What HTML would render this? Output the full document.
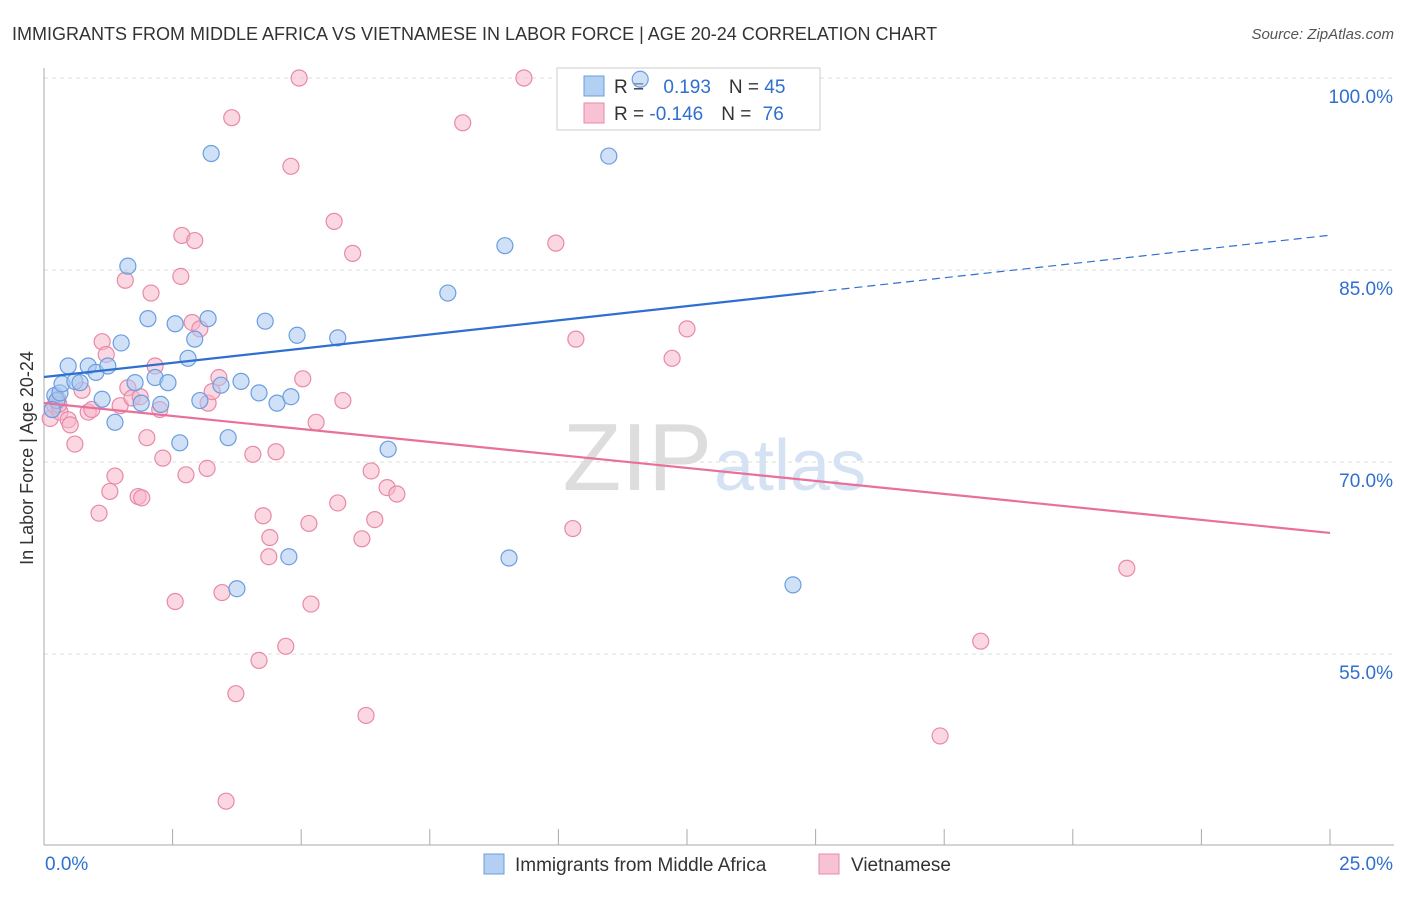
<!DOCTYPE html>
<html><head><meta charset="utf-8"><style>
body{margin:0;background:#fff;font-family:"Liberation Sans",sans-serif;}
svg text{font-family:"Liberation Sans",sans-serif;}
</style></head><body>
<svg id="chart" width="1406" height="892" viewBox="0 0 1406 892" xmlns="http://www.w3.org/2000/svg">
<text x="12" y="40" font-size="18" fill="#333">IMMIGRANTS FROM MIDDLE AFRICA VS VIETNAMESE IN LABOR FORCE | AGE 20-24 CORRELATION CHART</text>
<text x="1394" y="39" font-size="15" fill="#555" text-anchor="end" font-style="italic">Source: ZipAtlas.com</text>
<g id="grid"></g>
<g id="axes"></g>
<text x="712" y="490" font-size="96" fill="#ddd" text-anchor="end" font-family="Liberation Serif">ZIP</text>
<text x="714" y="490" font-size="72" fill="#d5e2f3">atlas</text>
<g>
<rect x="557" y="68" width="263" height="62" fill="#fff" stroke="#ccc"/>
<rect x="584" y="76" width="20" height="20" fill="#b3cff2" stroke="#6a9ee0"/>
<rect x="584" y="103" width="20" height="20" fill="#f7c3d4" stroke="#e889a8"/>
<text x="614" y="93" font-size="19" fill="#333">R = <tspan fill="#2f6fd0" dx="14">0.193</tspan><tspan fill="#333" dx="18">N = </tspan><tspan fill="#2f6fd0">45</tspan></text>
<text x="614" y="120" font-size="19" fill="#333">R = <tspan fill="#2f6fd0">-0.146</tspan><tspan fill="#333" dx="18">N = </tspan><tspan fill="#2f6fd0" dx="6">76</tspan></text>
</g>
<g id="pts"></g>
<g id="trend"></g>
<text x="33" y="458" font-size="18" fill="#333" text-anchor="middle" transform="rotate(-90 33 458)">In Labor Force | Age 20-24</text>
<g>
<rect x="484" y="854" width="20" height="20" fill="#b3cff2" stroke="#6a9ee0"/>
<text x="515" y="871" font-size="19" fill="#333">Immigrants from Middle Africa</text>
<rect x="819" y="854" width="20" height="20" fill="#f7c3d4" stroke="#e889a8"/>
<text x="851" y="871" font-size="19" fill="#333">Vietnamese</text>
</g>
</svg>
<script>
const yTicks=[100,85,70,55];
const xTickLabels=["0.0%","25.0%"];
const blueX=[0.21,0.25,0.31,0.47,0.35,0.6,0.7,0.86,1.01,1.13,1.24,1.38,1.5,1.63,1.77,1.89,2.02,2.16,2.27,2.41,2.55,2.64,2.8,2.93,3.03,3.19,3.25,3.44,3.58,3.75,3.83,4.18,4.3,4.53,4.76,4.8,4.92,5.71,6.69,7.85,8.96,9.04,10.98,11.59,14.56,0.16];
const blueY=[75.2,74.8,75.4,77.5,76.1,76.3,76.2,77.5,77.0,74.9,77.5,73.1,79.3,85.3,76.2,74.6,81.2,76.6,74.5,76.2,80.8,71.5,78.1,79.6,74.8,81.2,94.1,76.0,71.9,60.1,76.3,75.4,81.0,74.6,62.6,75.1,79.9,79.7,71.0,83.2,86.9,62.5,93.9,99.9,60.4,74.1];
const pinkX=[0.12,0.16,0.21,0.27,0.31,0.47,0.51,0.6,0.74,0.86,0.93,1.07,1.13,1.21,1.28,1.38,1.48,1.58,1.63,1.71,1.83,1.9,2.0,2.08,2.16,2.25,2.31,2.55,2.68,2.76,2.66,2.93,2.88,3.03,3.17,3.19,3.27,3.4,3.46,3.65,3.73,4.06,4.18,4.26,4.39,4.37,4.51,4.7,4.8,4.96,5.03,5.15,5.19,5.29,5.64,5.71,5.81,6.0,6.18,6.26,6.36,6.43,6.67,6.86,8.14,9.33,9.95,10.28,10.34,12.21,12.5,17.42,18.21,21.05,3.54,0.29,1.87];
const pinkY=[73.4,74.1,74.4,74.9,73.9,73.3,72.9,71.4,75.6,73.9,74.1,66.0,79.4,78.4,67.7,68.9,74.4,84.2,75.8,75.0,67.3,67.2,71.9,83.2,77.5,74.1,70.3,59.1,87.7,69.0,84.5,87.3,80.9,80.4,69.5,74.6,75.5,76.6,59.8,96.9,51.9,70.6,54.5,65.8,64.1,62.6,70.8,55.6,93.1,100.0,76.5,65.2,58.9,73.1,88.8,66.8,74.8,86.3,64.0,50.2,69.3,65.5,68.0,67.5,96.5,100.0,87.1,64.8,79.6,78.1,80.4,48.6,56.0,61.7,43.5,74.5,75.1];
const blueTrend=[76.64,0.443];
const pinkTrend=[74.61,-0.406];

const ns="http://www.w3.org/2000/svg";
const X0=44,X1=1330,Y100=78,PPU=12.8;
const xs=v=>X0+(X1-X0)*v/25;
const ys=v=>Y100+(100-v)*PPU;
function mk(tag,attrs,parent){const e=document.createElementNS(ns,tag);for(const k in attrs)e.setAttribute(k,attrs[k]);parent.appendChild(e);return e;}
const grid=document.getElementById('grid'),axes=document.getElementById('axes'),pts=document.getElementById('pts'),trend=document.getElementById('trend');
yTicks.forEach(t=>{
  const l=mk('line',{x1:X0,x2:1394,y1:ys(t),y2:ys(t),stroke:'#ddd','stroke-dasharray':'4,4'},grid);
  
  
  const tx=mk('text',{x:1393,y:ys(t)+25,'font-size':19,fill:'#2f6fd0','text-anchor':'end'},grid);
  tx.textContent=t.toFixed(1)+'%';
  
  
});
mk('line',{x1:X0,x2:X0,y1:68,y2:845,stroke:'#aaa'},axes);
mk('line',{x1:X0,x2:1394,y1:845,y2:845,stroke:'#aaa'},axes);
for(let i=1;i<=10;i++){const x=xs(i*2.5);const t=mk('line',{x1:x,x2:x,y1:829,y2:845,stroke:'#aaa'},axes);
  
  }
[[xTickLabels[0],45,'start'],[xTickLabels[1],1393,'end']].forEach(([s,x,a])=>{const t=mk('text',{x:x,y:870,'font-size':19,fill:'#2f6fd0','text-anchor':a},axes);t.textContent=s;
  
  });
function dots(X,Y,fill,stroke,name){X.forEach((x,i)=>{const c=mk('circle',{cx:xs(x),cy:ys(Y[i]),r:8,fill:fill,'fill-opacity':0.55,stroke:stroke,'stroke-width':1.2},pts);
  
  });}
dots(pinkX,pinkY,'#f7b6cb','#e889a8','point-vietnamese');
dots(blueX,blueY,'#a9c8f0','#6a9ee0','point-middle-africa');
const [ba,bb]=blueTrend;
let l=mk('line',{x1:xs(0),y1:ys(ba),x2:xs(15),y2:ys(ba+bb*15),stroke:'#2f6fd0','stroke-width':2.2},trend);


l=mk('line',{x1:xs(15),y1:ys(ba+bb*15),x2:xs(25),y2:ys(ba+bb*25),stroke:'#2f6fd0','stroke-width':1.2,'stroke-dasharray':'8,5'},trend);


const [pa,pb]=pinkTrend;
l=mk('line',{x1:xs(0),y1:ys(pa),x2:xs(25),y2:ys(pa+pb*25),stroke:'#e8709a','stroke-width':2.2},trend);


</script>
</body></html>
